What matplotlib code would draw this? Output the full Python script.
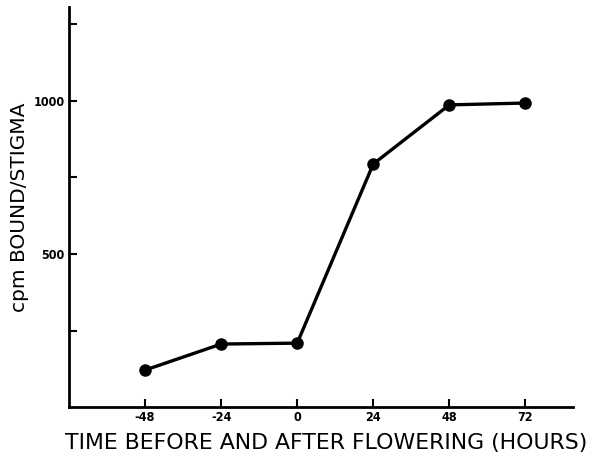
import matplotlib
matplotlib.use('Agg')
import matplotlib.pyplot as plt

hours = [-48, -24, 0, 24, 48, 72]
cpm = [121, 206, 209, 794, 987, 993]

x_ticks = [-48, -24, 0, 24, 48, 72]
x_labels = ['-48', '-24', '0', '24', '48', '72']
y_ticks = [250, 500, 750, 1000, 1250]
y_labels = ['', '500', '', '1000', '']

fig = plt.figure(figsize=(5.9, 4.59), dpi=100)
ax = fig.add_axes([0.117, 0.113, 0.854, 0.872])

ax.plot(hours, cpm, '-o', color='k', lw=2.4, ms=8)

ax.set_xlim(-72, 87)
ax.set_ylim(0, 1307)
ax.spines['top'].set_visible(False)
ax.spines['right'].set_visible(False)
for s in ['left', 'bottom']:
    ax.spines[s].set_linewidth(2)

tick_font = dict(family=['Liberation Sans Narrow', 'DejaVu Sans'], weight='bold',
                 stretch='condensed', size=9)
ax.set_xticks(x_ticks)
ax.set_xticklabels(x_labels, **tick_font)
ax.set_yticks(y_ticks)
ax.set_yticklabels(y_labels, **tick_font)
ax.tick_params(axis='both', direction='in', length=6, width=1.5, pad=3)

ax.set_xlabel('TIME BEFORE AND AFTER FLOWERING (HOURS)', fontsize=15.8)
ax.xaxis.set_label_coords(0.51, -0.065)
ax.set_ylabel('cpm BOUND/STIGMA', fontsize=14.5)
ax.yaxis.set_label_coords(-0.08, 0.5)

fig.savefig('out.png', dpi=100)
